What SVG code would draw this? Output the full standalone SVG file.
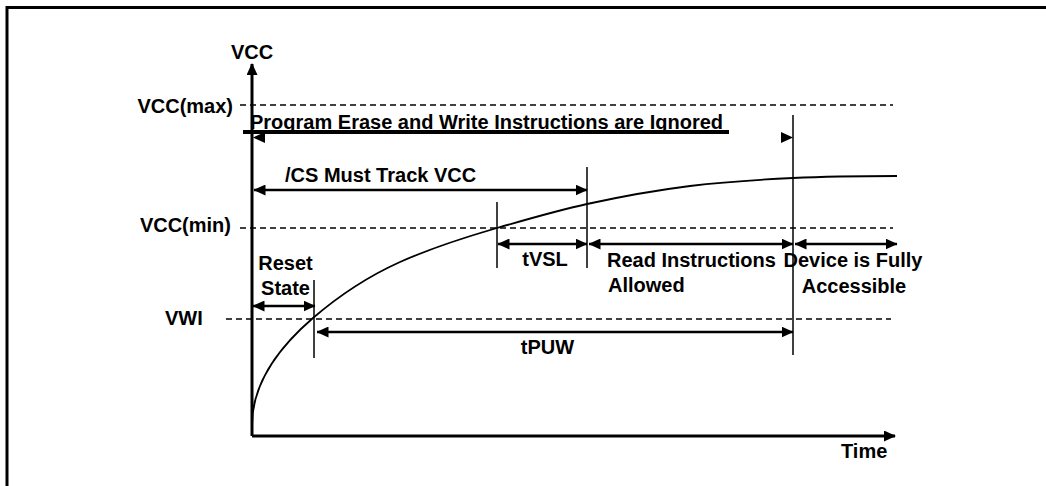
<svg xmlns="http://www.w3.org/2000/svg" width="1046" height="486" viewBox="0 0 1046 486">
<style>
text{font-family:"Liberation Sans",Arial,sans-serif;font-weight:bold;font-size:20px;fill:#000}
.ax{stroke:#000;stroke-width:3;fill:none}
.dash{stroke:#000;stroke-width:1.3;stroke-dasharray:6 4;fill:none}
.thin{stroke:#000;stroke-width:1.5;fill:none}
.arr{stroke:#000;stroke-width:2.6;fill:none;marker-start:url(#ah);marker-end:url(#ah)}
.head{fill:#000}
</style>
<defs>
<marker id="ah" markerUnits="userSpaceOnUse" markerWidth="12" markerHeight="11" viewBox="0 0 12 11" refX="11.5" refY="5.5" orient="auto-start-reverse">
<path d="M0,0 L12,5.5 L0,11 Z" fill="#000"/>
</marker>
<marker id="axh" markerUnits="userSpaceOnUse" markerWidth="12" markerHeight="11" viewBox="0 0 12 11" refX="11" refY="5.5" orient="auto">
<path d="M0,0 L12,5.5 L0,11 Z" fill="#000"/>
</marker>
</defs>
<rect width="1046" height="486" fill="#fff"/>
<g id="frame">
<path d="M7,486 L7,7.5 L1046,7.5" fill="none" stroke="#000" stroke-width="3"/>
</g>
<g id="axes">
<path class="ax" d="M252,436 L252,64" marker-end="url(#axh)"/>
<path class="ax" d="M252,436 L895,436" marker-end="url(#axh)"/>
<text x="252" y="59" text-anchor="middle">VCC</text>
<text x="841" y="458">Time</text>
</g>
<g id="levels">
<path class="dash" d="M240,105 L893,105"/>
<path class="dash" d="M240,228 L893,228"/>
<path class="dash" d="M226,319 L891,319"/>
<text x="233" y="113" text-anchor="end">VCC(max)</text>
<text x="231" y="232" text-anchor="end">VCC(min)</text>
<text x="165" y="325">VWI</text>
</g>
<g id="curve">
<path fill="none" stroke="#000" stroke-width="1.8" d="M252,425 C252,380 283,343.8 313,318 C342,293.1 371,275.05 400,262 C432.3,247.5 464.7,237.4 497,228 C527,219.3 557,210.6 587,204 C621.3,196.5 655.7,190.3 690,186 C724.3,181.7 758.7,179.6 793,178 C827.7,176.3 862.3,176 897,176"/>
</g>
<g id="markers">
<path class="thin" d="M314,280 L314,358"/>
<path class="thin" d="M497,202 L497,268"/>
<path class="thin" d="M587,167 L587,268"/>
<path class="thin" d="M793,115 L793,355"/>
</g>
<g id="connectors">
<path class="arr" d="M254,190 L587,190"/>
<path class="arr" d="M498,244 L587,244"/>
<path class="arr" d="M589,244 L793,244"/>
<path class="arr" d="M795,244 L897,244"/>
<path class="arr" d="M253,306 L315,306"/>
<path class="arr" d="M317,332 L793,332"/>
<path class="head" d="M253,137.5 L265,132 L265,143 Z"/>
<path class="head" d="M793,137.5 L781,132 L781,143 Z"/>
</g>
<g id="ignored">
<text x="250" y="129">Program Erase and Write Instructions are Ignored</text>
<path d="M243,132 L729,132" stroke="#000" stroke-width="4"/>
</g>
<g id="labels">
<text x="285" y="182">/CS Must Track VCC</text>
<text x="545" y="266" text-anchor="middle">tVSL</text>
<text x="607" y="267">Read Instructions</text>
<text x="608" y="292">Allowed</text>
<text x="853" y="267" text-anchor="middle">Device is Fully</text>
<text x="854" y="293" text-anchor="middle">Accessible</text>
<text x="285.5" y="270" text-anchor="middle">Reset</text>
<text x="285.5" y="295" text-anchor="middle">State</text>
<text x="547.5" y="354" text-anchor="middle">tPUW</text>
</g>
</svg>
